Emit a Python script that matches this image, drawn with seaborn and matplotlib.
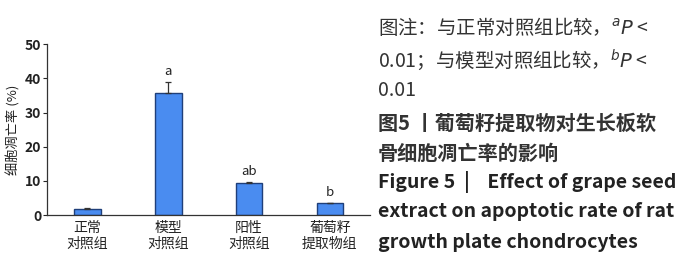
import matplotlib
matplotlib.use("Agg")
import matplotlib.pyplot as plt
import seaborn as sns
import pandas as pd

categories = ["正常\n对照组", "模型\n对照组", "阳性\n对照组", "葡萄籽\n提取物组"]
values = [1.8, 35.8, 9.4, 3.6]
errors = [0.4, 3.0, 0.3, 0.0]
sig_labels = ["", "a", "ab", "b"]
y_ticks = [0, 10, 20, 30, 40, 50]

sns.set_theme(style="white")
plt.rcParams['font.family'] = ['Noto Sans CJK SC', 'DejaVu Sans']

df = pd.DataFrame({"group": categories, "rate": values})

fig = plt.figure(figsize=(7.0, 2.69), dpi=100)
ax = fig.add_axes([0.067, 0.200, 0.462, 0.636])

sns.barplot(data=df, x="group", y="rate", color="#4a8cf0", width=0.33,
            edgecolor="#1f3f7a", linewidth=1.0, errorbar=None, ax=ax, saturation=1)
ax.errorbar(range(len(values)), values, yerr=[[0]*len(errors), errors], fmt="none",
            ecolor="#333333", elinewidth=0.9, capsize=2.5, capthick=0.9)
for i, (v, e, s) in enumerate(zip(values, errors, sig_labels)):
    if s:
        ax.text(i, v + e + 1.2, s, ha="center", va="bottom", fontsize=9.5,
                color="#222222", fontweight="medium")

ax.set_xlim(-0.5, 3.5)
ax.set_ylim(0, 50)
ax.set_yticks(y_ticks)
ax.set_yticklabels([str(t) for t in y_ticks], fontsize=10, color="#222222", fontweight="bold")
ax.tick_params(axis="y", direction="out", length=3, width=0.8, pad=1, left=True)
ax.tick_params(axis="x", length=0, labelsize=10, labelcolor="#222222", pad=4)
ax.set_xlabel("")
ax.set_ylabel("细胞凋亡率 (%)", fontsize=9.5, color="#222222", labelpad=3)
for side in ["top", "right"]:
    ax.spines[side].set_visible(False)
for side in ["left", "bottom"]:
    ax.spines[side].set_color("#333333")
    ax.spines[side].set_linewidth(0.9)

txt = "#333333"
fig.text(0.540, 0.896, "图注：与正常对照组比较，$^{a}$$\\it{P}$ <", fontsize=14, color=txt, ha="left", va="center")
fig.text(0.540, 0.777, "0.01；与模型对照组比较，$^{b}$$\\it{P}$ <", fontsize=14, color=txt, ha="left", va="center")
fig.text(0.540, 0.665, "0.01", fontsize=14, color=txt, ha="left", va="center")
fig.text(0.540, 0.543, "图5 丨葡萄籽提取物对生长板软", fontsize=14.5, color=txt, ha="left", va="center", fontweight="bold")
fig.text(0.540, 0.431, "骨细胞凋亡率的影响", fontsize=14.5, color=txt, ha="left", va="center", fontweight="bold")
fig.text(0.540, 0.323, "Figure 5  |    Effect of grape seed", fontsize=14, color="#222222", ha="left", va="center", fontweight="bold")
fig.text(0.540, 0.212, "extract on apoptotic rate of rat", fontsize=14, color="#222222", ha="left", va="center", fontweight="bold")
fig.text(0.540, 0.100, "growth plate chondrocytes", fontsize=14, color="#222222", ha="left", va="center", fontweight="bold")

fig.savefig("out.png", dpi=100)
